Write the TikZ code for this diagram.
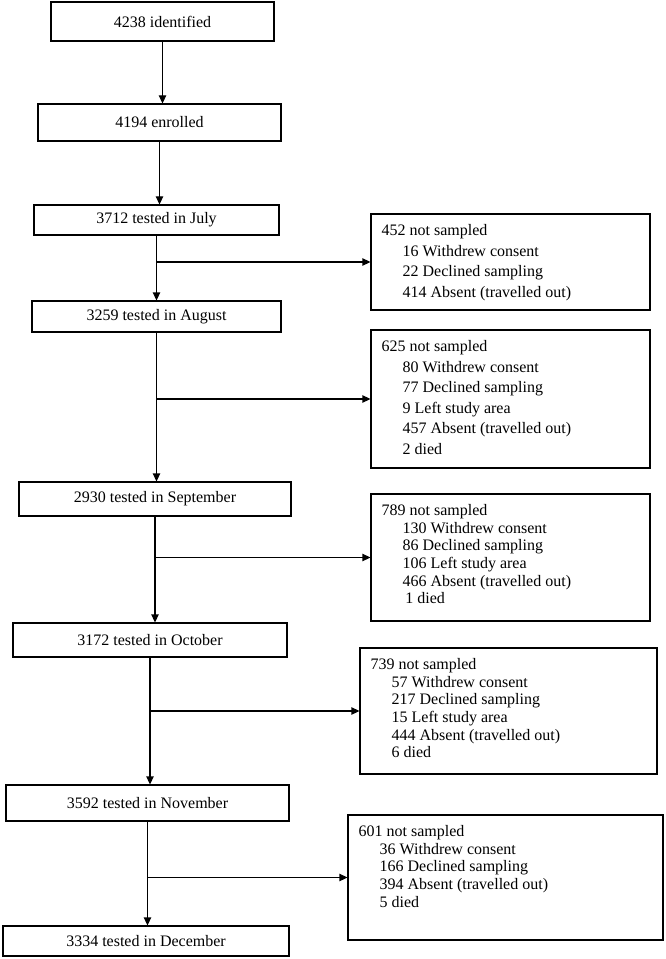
\documentclass[tikz,border=0pt]{standalone}
\usepackage{fontspec}
\setmainfont{Liberation Serif}
\usetikzlibrary{arrows.meta}
\newcommand{\ind}{\hspace*{15.75pt}}
\newcommand{\lossbox}[3]{\parbox[c][#2][t]{#1}{#3}}

\begin{document}
\begin{tikzpicture}[x=0.75pt,y=-0.75pt,line width=0.8pt]
    % `stage' is used for the boxes down the left side.
    % `loss' is used for the not-sampled boxes on the right.
    % `flow' is used for every arrow.
    \tikzstyle{stage} = [draw,fill=white,inner sep=0pt,font=\fontsize{12}{15.4}\selectfont]
    \tikzstyle{loss} = [draw,fill=white,inner sep=8pt,font=\fontsize{12}{15.4}\selectfont]
    \tikzstyle{tight} = [font=\fontsize{12}{13.2}\selectfont]
    \tikzstyle{flow} = [-{Triangle[length=6pt,width=5.5pt]}]
    \useasboundingbox (0,0) rectangle (665,959);
    %
    \node[stage,minimum width=167.25pt,minimum height=29.25pt] (id) at (162.5,21.5) {4238 identified};
    \node[stage,minimum width=182.25pt,minimum height=27.75pt] (enr) at (159.5,122.5) {4194 enrolled};
    \node[stage,minimum width=183.75pt,minimum height=22.5pt] (jul) at (156.5,220) {3712 tested in July};
    \node[stage,minimum width=186.75pt,minimum height=23.25pt] (aug) at (156.5,316.5) {3259 tested in August};
    \node[stage,minimum width=204pt,minimum height=25.5pt] (sep) at (155,499) {2930 tested in September};
    \node[stage,minimum width=205.5pt,minimum height=25.5pt] (oct) at (150,640) {3172 tested in October};
    \node[stage,minimum width=212.25pt,minimum height=27pt] (nov) at (147.5,803) {3592 tested in November};
    \node[stage,minimum width=214.5pt,minimum height=22.5pt] (dec) at (146,941) {3334 tested in December};
    %
    \node[loss] (ljul) at (510.5,262) {\lossbox{193.25pt}{56pt}{452 not sampled\\
      \ind 16 Withdrew consent\\ \ind 22 Declined sampling\\ \ind 414 Absent (travelled out)}};
    \node[loss] (laug) at (510.5,399) {\lossbox{193.25pt}{87.5pt}{625 not sampled\\
      \ind 80 Withdrew consent\\ \ind 77 Declined sampling\\ \ind 9 Left study area\\
      \ind 457 Absent (travelled out)\\ \ind 2 died}};
    \node[loss,tight] (lsep) at (510.5,557.5) {\lossbox{193.25pt}{79.25pt}{789 not sampled\\
      \ind 130 Withdrew consent\\ \ind 86 Declined sampling\\ \ind 106 Left study area\\
      \ind 466 Absent (travelled out)\\ \ind\hspace*{2pt}1 died}};
    \node[loss,tight] (loct) at (508.5,711) {\lossbox{206.75pt}{78.5pt}{739 not sampled\\
      \ind 57 Withdrew consent\\ \ind 217 Declined sampling\\ \ind 15 Left study area\\
      \ind 444 Absent (travelled out)\\ \ind 6 died}};
    \node[loss,tight] (lnov) at (505.5,877.5) {\lossbox{220.25pt}{77.75pt}{601 not sampled\\
      \ind 36 Withdrew consent\\ \ind 166 Declined sampling\\
      \ind 394 Absent (travelled out)\\ \ind 5 died}};
    %
    % Draw arrows.
    \draw[flow] (id.south) -- (id.south |- enr.north);
    \draw[flow] (enr.south) -- (enr.south |- jul.north);
    \draw[flow] (jul.south) -- (jul.south |- aug.north);
    \draw[flow] (aug.south) -- (aug.south |- sep.north);
    \draw[flow] (sep.south) -- (sep.south |- oct.north);
    \draw[flow] (oct.south) -- (oct.south |- nov.north);
    \draw[flow] (nov.south) -- (nov.south |- dec.north);
    \draw[flow] (jul.south |- ljul.west) -- (ljul.west);
    \draw[flow] (aug.south |- laug.west) -- (laug.west);
    \draw[flow] (sep.south |- lsep.west) -- (lsep.west);
    \draw[flow] (oct.south |- loct.west) -- (loct.west);
    \draw[flow] (nov.south |- lnov.west) -- (lnov.west);
\end{tikzpicture}
\end{document}
